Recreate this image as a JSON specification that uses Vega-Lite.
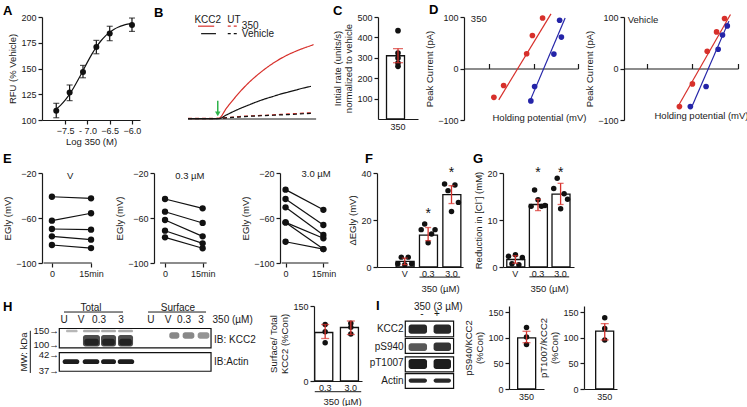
{
  "$schema": "https://vega.github.io/schema/vega-lite/v6.json",
  "padding": {"left": 2, "top": 3, "right": 0, "bottom": 0},
  "background": "white",
  "spacing": 6,
  "bounds": "full",
  "resolve": {"scale": {"color": "independent", "strokeDash": "independent", "opacity": "independent"}},
  "datasets": {
    "a_pts": [
      {"logc": -7.7, "rfu": 109, "lo": 102.2, "hi": 116.2},
      {"logc": -7.4, "rfu": 126.6, "lo": 118.8, "hi": 134},
      {"logc": -7.1, "rfu": 146.5, "lo": 141, "hi": 153},
      {"logc": -6.8, "rfu": 170.8, "lo": 164.3, "hi": 177.3},
      {"logc": -6.5, "rfu": 184, "lo": 177, "hi": 191},
      {"logc": -6.0, "rfu": 192.3, "lo": 186, "hi": 199}
    ],
    "a_curve": [
      {"logc": -7.7, "rfu": 110.7}, {"logc": -7.6, "rfu": 114.5}, {"logc": -7.5, "rfu": 119.3},
      {"logc": -7.4, "rfu": 125.1}, {"logc": -7.3, "rfu": 132.1}, {"logc": -7.2, "rfu": 139.8},
      {"logc": -7.1, "rfu": 148.0}, {"logc": -7.0, "rfu": 156.2}, {"logc": -6.9, "rfu": 164.0},
      {"logc": -6.8, "rfu": 170.9}, {"logc": -6.7, "rfu": 176.7}, {"logc": -6.6, "rfu": 181.5},
      {"logc": -6.5, "rfu": 185.3}, {"logc": -6.4, "rfu": 188.2}, {"logc": -6.3, "rfu": 190.3},
      {"logc": -6.2, "rfu": 191.9}, {"logc": -6.1, "rfu": 193.1}, {"logc": -6.0, "rfu": 193.9}
    ],
    "b_lines": [
      {"series": "KCC2-350", "drug": "350", "cells": "KCC2", "t": 0, "rfu": 1},
      {"series": "KCC2-350", "drug": "350", "cells": "KCC2", "t": 3, "rfu": 1},
      {"series": "KCC2-350", "drug": "350", "cells": "KCC2", "t": 6, "rfu": 1},
      {"series": "KCC2-350", "drug": "350", "cells": "KCC2", "t": 9, "rfu": 1},
      {"series": "KCC2-350", "drug": "350", "cells": "KCC2", "t": 12, "rfu": 2},
      {"series": "KCC2-350", "drug": "350", "cells": "KCC2", "t": 15, "rfu": 32},
      {"series": "KCC2-350", "drug": "350", "cells": "KCC2", "t": 18, "rfu": 60},
      {"series": "KCC2-350", "drug": "350", "cells": "KCC2", "t": 21, "rfu": 86},
      {"series": "KCC2-350", "drug": "350", "cells": "KCC2", "t": 24, "rfu": 109},
      {"series": "KCC2-350", "drug": "350", "cells": "KCC2", "t": 27, "rfu": 129},
      {"series": "KCC2-350", "drug": "350", "cells": "KCC2", "t": 30, "rfu": 147},
      {"series": "KCC2-350", "drug": "350", "cells": "KCC2", "t": 33, "rfu": 163},
      {"series": "KCC2-350", "drug": "350", "cells": "KCC2", "t": 36, "rfu": 177},
      {"series": "KCC2-350", "drug": "350", "cells": "KCC2", "t": 39, "rfu": 189},
      {"series": "KCC2-350", "drug": "350", "cells": "KCC2", "t": 42, "rfu": 199},
      {"series": "KCC2-350", "drug": "350", "cells": "KCC2", "t": 45, "rfu": 208},
      {"series": "KCC2-350", "drug": "350", "cells": "KCC2", "t": 48, "rfu": 216},
      {"series": "KCC2-350", "drug": "350", "cells": "KCC2", "t": 49, "rfu": 219},
      {"series": "KCC2-Veh", "drug": "Vehicle", "cells": "KCC2", "t": 0, "rfu": 1},
      {"series": "KCC2-Veh", "drug": "Vehicle", "cells": "KCC2", "t": 3, "rfu": 1},
      {"series": "KCC2-Veh", "drug": "Vehicle", "cells": "KCC2", "t": 6, "rfu": 1},
      {"series": "KCC2-Veh", "drug": "Vehicle", "cells": "KCC2", "t": 9, "rfu": 1},
      {"series": "KCC2-Veh", "drug": "Vehicle", "cells": "KCC2", "t": 12, "rfu": 1},
      {"series": "KCC2-Veh", "drug": "Vehicle", "cells": "KCC2", "t": 15, "rfu": 12},
      {"series": "KCC2-Veh", "drug": "Vehicle", "cells": "KCC2", "t": 18, "rfu": 23},
      {"series": "KCC2-Veh", "drug": "Vehicle", "cells": "KCC2", "t": 21, "rfu": 33},
      {"series": "KCC2-Veh", "drug": "Vehicle", "cells": "KCC2", "t": 24, "rfu": 42},
      {"series": "KCC2-Veh", "drug": "Vehicle", "cells": "KCC2", "t": 27, "rfu": 51},
      {"series": "KCC2-Veh", "drug": "Vehicle", "cells": "KCC2", "t": 30, "rfu": 59},
      {"series": "KCC2-Veh", "drug": "Vehicle", "cells": "KCC2", "t": 33, "rfu": 66},
      {"series": "KCC2-Veh", "drug": "Vehicle", "cells": "KCC2", "t": 36, "rfu": 73},
      {"series": "KCC2-Veh", "drug": "Vehicle", "cells": "KCC2", "t": 39, "rfu": 79},
      {"series": "KCC2-Veh", "drug": "Vehicle", "cells": "KCC2", "t": 42, "rfu": 85},
      {"series": "KCC2-Veh", "drug": "Vehicle", "cells": "KCC2", "t": 45, "rfu": 91},
      {"series": "KCC2-Veh", "drug": "Vehicle", "cells": "KCC2", "t": 48, "rfu": 96},
      {"series": "UT-350", "drug": "350", "cells": "UT", "t": 0, "rfu": 2},
      {"series": "UT-350", "drug": "350", "cells": "UT", "t": 3, "rfu": 2},
      {"series": "UT-350", "drug": "350", "cells": "UT", "t": 6, "rfu": 2},
      {"series": "UT-350", "drug": "350", "cells": "UT", "t": 9, "rfu": 2},
      {"series": "UT-350", "drug": "350", "cells": "UT", "t": 12, "rfu": 2},
      {"series": "UT-350", "drug": "350", "cells": "UT", "t": 15, "rfu": 4},
      {"series": "UT-350", "drug": "350", "cells": "UT", "t": 18, "rfu": 6},
      {"series": "UT-350", "drug": "350", "cells": "UT", "t": 21, "rfu": 8},
      {"series": "UT-350", "drug": "350", "cells": "UT", "t": 24, "rfu": 9},
      {"series": "UT-350", "drug": "350", "cells": "UT", "t": 27, "rfu": 10},
      {"series": "UT-350", "drug": "350", "cells": "UT", "t": 30, "rfu": 11},
      {"series": "UT-350", "drug": "350", "cells": "UT", "t": 33, "rfu": 12},
      {"series": "UT-350", "drug": "350", "cells": "UT", "t": 36, "rfu": 13.5},
      {"series": "UT-350", "drug": "350", "cells": "UT", "t": 39, "rfu": 15},
      {"series": "UT-350", "drug": "350", "cells": "UT", "t": 42, "rfu": 16},
      {"series": "UT-350", "drug": "350", "cells": "UT", "t": 45, "rfu": 17.5},
      {"series": "UT-350", "drug": "350", "cells": "UT", "t": 48, "rfu": 18},
      {"series": "UT-Veh", "drug": "Vehicle", "cells": "UT", "t": 0, "rfu": 1},
      {"series": "UT-Veh", "drug": "Vehicle", "cells": "UT", "t": 3, "rfu": 1},
      {"series": "UT-Veh", "drug": "Vehicle", "cells": "UT", "t": 6, "rfu": 1},
      {"series": "UT-Veh", "drug": "Vehicle", "cells": "UT", "t": 9, "rfu": 1},
      {"series": "UT-Veh", "drug": "Vehicle", "cells": "UT", "t": 12, "rfu": 1.5},
      {"series": "UT-Veh", "drug": "Vehicle", "cells": "UT", "t": 15, "rfu": 3.5},
      {"series": "UT-Veh", "drug": "Vehicle", "cells": "UT", "t": 18, "rfu": 5},
      {"series": "UT-Veh", "drug": "Vehicle", "cells": "UT", "t": 21, "rfu": 6.5},
      {"series": "UT-Veh", "drug": "Vehicle", "cells": "UT", "t": 24, "rfu": 8},
      {"series": "UT-Veh", "drug": "Vehicle", "cells": "UT", "t": 27, "rfu": 9},
      {"series": "UT-Veh", "drug": "Vehicle", "cells": "UT", "t": 30, "rfu": 10},
      {"series": "UT-Veh", "drug": "Vehicle", "cells": "UT", "t": 33, "rfu": 11},
      {"series": "UT-Veh", "drug": "Vehicle", "cells": "UT", "t": 36, "rfu": 12},
      {"series": "UT-Veh", "drug": "Vehicle", "cells": "UT", "t": 39, "rfu": 13},
      {"series": "UT-Veh", "drug": "Vehicle", "cells": "UT", "t": 42, "rfu": 14},
      {"series": "UT-Veh", "drug": "Vehicle", "cells": "UT", "t": 45, "rfu": 15.5},
      {"series": "UT-Veh", "drug": "Vehicle", "cells": "UT", "t": 48, "rfu": 16.5}
    ],
    "c_bar": [{"grp": "350", "mean": 310, "lo": 276, "hi": 345}],
    "c_pts": [
      {"grp": "350", "val": 433}, {"grp": "350", "val": 323}, {"grp": "350", "val": 299},
      {"grp": "350", "val": 274}, {"grp": "350", "val": 258}
    ],
    "d1_pts": [
      {"cond": "before", "v": -88, "i": -56}, {"cond": "before", "v": -83.6, "i": -33},
      {"cond": "before", "v": -73.2, "i": 28.7}, {"cond": "before", "v": -70.6, "i": 64},
      {"cond": "before", "v": -66, "i": 98},
      {"cond": "after", "v": -71.3, "i": -63}, {"cond": "after", "v": -69.6, "i": -35},
      {"cond": "after", "v": -60.9, "i": 28}, {"cond": "after", "v": -57.5, "i": 61},
      {"cond": "after", "v": -58.3, "i": 93.6}
    ],
    "d1_fit": [
      {"cond": "before", "v": -85.8, "i": -61}, {"cond": "before", "v": -62.2, "i": 106},
      {"cond": "after", "v": -71.3, "i": -59}, {"cond": "after", "v": -55.8, "i": 98}
    ],
    "d2_pts": [
      {"cond": "before", "v": -75.7, "i": -74}, {"cond": "before", "v": -70, "i": -30},
      {"cond": "before", "v": -63.5, "i": 33.5}, {"cond": "before", "v": -59.4, "i": 71},
      {"cond": "before", "v": -55.9, "i": 97},
      {"cond": "after", "v": -70.9, "i": -74}, {"cond": "after", "v": -64, "i": -35},
      {"cond": "after", "v": -58.7, "i": 37.4}, {"cond": "after", "v": -56.8, "i": 65},
      {"cond": "after", "v": -54.7, "i": 82.7}
    ],
    "d2_fit": [
      {"cond": "before", "v": -75.7, "i": -69}, {"cond": "before", "v": -53.3, "i": 105},
      {"cond": "after", "v": -70.2, "i": -74}, {"cond": "after", "v": -54, "i": 92}
    ],
    "e1": [
      {"id": 1, "t": 0, "v": -41.1}, {"id": 1, "t": 15, "v": -42.5},
      {"id": 2, "t": 0, "v": -62.4}, {"id": 2, "t": 15, "v": -55.8},
      {"id": 3, "t": 0, "v": -69.8}, {"id": 3, "t": 15, "v": -70.4},
      {"id": 4, "t": 0, "v": -76.3}, {"id": 4, "t": 15, "v": -79.3},
      {"id": 5, "t": 0, "v": -84.0}, {"id": 5, "t": 15, "v": -86.7}
    ],
    "e2": [
      {"id": 1, "t": 0, "v": -43.1}, {"id": 1, "t": 15, "v": -51.4},
      {"id": 2, "t": 0, "v": -54.4}, {"id": 2, "t": 15, "v": -64.4},
      {"id": 3, "t": 0, "v": -61.8}, {"id": 3, "t": 15, "v": -76.3},
      {"id": 4, "t": 0, "v": -71.3}, {"id": 4, "t": 15, "v": -82.5},
      {"id": 5, "t": 0, "v": -77.2}, {"id": 5, "t": 15, "v": -86.9}
    ],
    "e3": [
      {"id": 1, "t": 0, "v": -34.8}, {"id": 1, "t": 15, "v": -52.7},
      {"id": 2, "t": 0, "v": -43.1}, {"id": 2, "t": 15, "v": -66.2},
      {"id": 3, "t": 0, "v": -50.5}, {"id": 3, "t": 15, "v": -75.1},
      {"id": 4, "t": 0, "v": -63.9}, {"id": 4, "t": 15, "v": -78.0},
      {"id": 5, "t": 0, "v": -63.9}, {"id": 5, "t": 15, "v": -87.6},
      {"id": 6, "t": 0, "v": -81.1}, {"id": 6, "t": 15, "v": -87.6}
    ],
    "f_bar": [
      {"cond": "V", "mean": 2.4, "lo": 1.0, "hi": 3.8},
      {"cond": "0.3", "mean": 13.6, "lo": 11.2, "hi": 16.8},
      {"cond": "3.0", "mean": 30.8, "lo": 27.0, "hi": 34.6}
    ],
    "f_pts": [
      {"cond": "V", "rep": 1, "val": 1.4}, {"cond": "V", "rep": 2, "val": 4.2}, {"cond": "V", "rep": 3, "val": 1.0},
      {"cond": "V", "rep": 4, "val": 4.2}, {"cond": "V", "rep": 5, "val": 1.4},
      {"cond": "0.3", "rep": 1, "val": 15.9}, {"cond": "0.3", "rep": 2, "val": 18.3}, {"cond": "0.3", "rep": 3, "val": 10.3},
      {"cond": "0.3", "rep": 4, "val": 14.0}, {"cond": "0.3", "rep": 5, "val": 15.9},
      {"cond": "3.0", "rep": 1, "val": 35.3}, {"cond": "3.0", "rep": 2, "val": 32.5}, {"cond": "3.0", "rep": 3, "val": 23.6},
      {"cond": "3.0", "rep": 4, "val": 34.9}, {"cond": "3.0", "rep": 5, "val": 27.5}
    ],
    "g_bar": [
      {"cond": "V", "mean": 1.6, "lo": 0.8, "hi": 2.4},
      {"cond": "0.3", "mean": 13.3, "lo": 12.0, "hi": 14.4},
      {"cond": "3.0", "mean": 15.5, "lo": 13.3, "hi": 17.8}
    ],
    "g_pts": [
      {"cond": "V", "rep": 1, "val": 2.3}, {"cond": "V", "rep": 2, "val": 0.7}, {"cond": "V", "rep": 3, "val": 2.6},
      {"cond": "V", "rep": 4, "val": 0.5}, {"cond": "V", "rep": 5, "val": 2.0},
      {"cond": "0.3", "rep": 1, "val": 12.9}, {"cond": "0.3", "rep": 2, "val": 16.4}, {"cond": "0.3", "rep": 3, "val": 14.3},
      {"cond": "0.3", "rep": 4, "val": 12.9}, {"cond": "0.3", "rep": 5, "val": 13.1},
      {"cond": "3.0", "rep": 1, "val": 16.7}, {"cond": "3.0", "rep": 2, "val": 18.9}, {"cond": "3.0", "rep": 3, "val": 12.4},
      {"cond": "3.0", "rep": 4, "val": 15.6}, {"cond": "3.0", "rep": 5, "val": 14.4}
    ],
    "h_boxes": [{"blot": "KCC2", "y1": 0, "y2": 45.3}, {"blot": "Actin", "y1": 56.3, "y2": 100}],
    "h_bands": [
      {"x1": 4.4, "x2": 12.1, "y1": 3, "y2": 9, "dens": 0.3},
      {"x1": 15.6, "x2": 26.8, "y1": 3, "y2": 9, "dens": 0.35},
      {"x1": 27.5, "x2": 37.4, "y1": 3, "y2": 9, "dens": 0.35},
      {"x1": 38.7, "x2": 48.6, "y1": 3, "y2": 9, "dens": 0.35},
      {"x1": 15.6, "x2": 26.8, "y1": 15, "y2": 42, "dens": 0.75},
      {"x1": 27.5, "x2": 37.4, "y1": 15, "y2": 42, "dens": 0.75},
      {"x1": 38.7, "x2": 48.6, "y1": 15, "y2": 42, "dens": 0.75},
      {"x1": 16.5, "x2": 26, "y1": 24, "y2": 40, "dens": 0.7},
      {"x1": 28.3, "x2": 36.6, "y1": 24, "y2": 40, "dens": 0.7},
      {"x1": 39.5, "x2": 47.8, "y1": 24, "y2": 40, "dens": 0.7},
      {"x1": 72.5, "x2": 79.1, "y1": 9, "y2": 24, "dens": 0.5},
      {"x1": 81.3, "x2": 89, "y1": 9, "y2": 24, "dens": 0.5},
      {"x1": 91.2, "x2": 98.9, "y1": 9, "y2": 24, "dens": 0.45},
      {"x1": 2.2, "x2": 13.2, "y1": 72, "y2": 83, "dens": 0.95},
      {"x1": 15.4, "x2": 26.4, "y1": 72, "y2": 83, "dens": 0.95},
      {"x1": 27.5, "x2": 37.4, "y1": 72, "y2": 83, "dens": 0.95},
      {"x1": 38.5, "x2": 49.4, "y1": 72, "y2": 83, "dens": 0.95}
    ],
    "h_lanes": [
      {"lane": "U", "x": 3.1}, {"lane": "V", "x": 14.3}, {"lane": "0.3", "x": 26.2}, {"lane": "3", "x": 40.7},
      {"lane": "U", "x": 60.4}, {"lane": "V", "x": 71.7}, {"lane": "0.3", "x": 82.2}, {"lane": "3", "x": 93.4}
    ],
    "h_mw": [
      {"lab": "150→", "y": 6.1}, {"lab": "100→", "y": 37.6}, {"lab": "42→", "y": 62.4}, {"lab": "37→", "y": 100}
    ],
    "hb_bar": [
      {"cond": "0.3", "mean": 97, "lo": 85, "hi": 113},
      {"cond": "3.0", "mean": 107, "lo": 93, "hi": 120}
    ],
    "hb_pts": [
      {"cond": "0.3", "val": 113}, {"cond": "0.3", "val": 98.6}, {"cond": "0.3", "val": 76.6},
      {"cond": "3.0", "val": 115.3}, {"cond": "3.0", "val": 94}, {"cond": "3.0", "val": 107.3}
    ],
    "i_boxes": [
      {"blot": "KCC2", "y1": 0, "y2": 23.3, "ylab": 12.5},
      {"blot": "pS940", "y1": 25.8, "y2": 48.1, "ylab": 38.1},
      {"blot": "pT1007", "y1": 53.3, "y2": 75.5, "ylab": 62.9},
      {"blot": "Actin", "y1": 78, "y2": 100, "ylab": 89}
    ],
    "i_bands": [
      {"x1": 6.9, "x2": 45, "y1": 5, "y2": 18.8, "dens": 0.9},
      {"x1": 58.6, "x2": 94.6, "y1": 5, "y2": 18.8, "dens": 0.9},
      {"x1": 6.9, "x2": 45, "y1": 33, "y2": 44.5, "dens": 0.7},
      {"x1": 58.6, "x2": 94.6, "y1": 32, "y2": 44.5, "dens": 0.85},
      {"x1": 6.9, "x2": 45, "y1": 56.4, "y2": 71.2, "dens": 0.95},
      {"x1": 58.6, "x2": 94.6, "y1": 56.4, "y2": 71.2, "dens": 0.95},
      {"x1": 6.9, "x2": 45, "y1": 85.2, "y2": 91.6, "dens": 0.9},
      {"x1": 58.6, "x2": 94.6, "y1": 85.2, "y2": 91.6, "dens": 0.9}
    ],
    "i1_bar": [{"grp": "350", "mean": 100, "lo": 90.6, "hi": 113}],
    "i1_pts": [{"grp": "350", "val": 120.6}, {"grp": "350", "val": 102}, {"grp": "350", "val": 87}],
    "i2_bar": [{"grp": "350", "mean": 113.5, "lo": 96, "hi": 128}],
    "i2_pts": [{"grp": "350", "val": 139.5}, {"grp": "350", "val": 118.6}, {"grp": "350", "val": 95.9}]
  },
  "vconcat": [
    {
      "spacing": 46,
      "bounds": "flush",
      "resolve": {"scale": {"color": "independent", "strokeDash": "independent", "opacity": "independent"}},
      "hconcat": [
        {
          "width": 98, "height": 103,
          "title": {"text": "A", "dx": -39, "dy": 7},
          "encoding": {
            "x": {"field": "logc", "type": "quantitative", "scale": {"domain": [-8.02, -5.82], "nice": false, "zero": false},
                  "axis": {"values": [-7.5, -7, -6.5, -6], "labelExpr": "datum.value == -7 ? '- 7.0' : format(datum.value, '.1f')", "title": "Log 350 (M)", "titlePadding": 1}},
            "y": {"field": "rfu", "type": "quantitative", "scale": {"domain": [100, 200], "nice": false, "zero": false},
                  "axis": {"values": [100, 125, 150, 175, 200], "title": "RFU (% Vehicle)"}}
          },
          "layer": [
            {"data": {"name": "a_curve"}, "mark": {"type": "line", "interpolate": "monotone", "color": "#111111", "strokeWidth": 1.2}},
            {"data": {"name": "a_pts"}, "mark": {"type": "errorbar", "ticks": {"size": 6}, "color": "#111111", "thickness": 1.2},
             "encoding": {"y": {"field": "lo", "type": "quantitative"}, "y2": {"field": "hi"}}},
            {"data": {"name": "a_pts"}, "mark": {"type": "point", "filled": true, "size": 36, "color": "#111111", "opacity": 1}}
          ]
        },
        {
          "width": 146, "height": 102,
          "title": {"text": "B", "dx": -32, "dy": 7},
          "layer": [
            {"data": {"name": "b_lines"}, "mark": {"type": "line", "strokeWidth": 1.2, "interpolate": "monotone"},
             "encoding": {
               "x": {"field": "t", "type": "quantitative", "scale": {"domain": [-0.8, 56.2], "nice": false, "zero": false},
                     "axis": {"values": [0, 10, 20, 30, 40, 50], "domain": false, "title": "Time (S)", "titlePadding": 1}},
               "y": {"field": "rfu", "type": "quantitative", "scale": {"domain": [0, 300], "nice": false},
                     "axis": {"values": [100, 200, 300], "title": "Normalized RFU"}},
               "color": {"field": "drug", "type": "nominal", "scale": {"domain": ["350", "Vehicle"], "range": ["#d7302b", "#111111"]}, "legend": null},
               "strokeDash": {"field": "cells", "type": "nominal", "scale": {"domain": ["KCC2", "UT"], "range": [[1, 0], [4, 3]]}, "legend": null},
               "detail": {"field": "series", "type": "nominal"}
             }},
            {"data": {"values": [{}]}, "mark": {"type": "rule", "color": "#1a1a1a", "strokeWidth": 1.2},
             "encoding": {"x": {"datum": 0, "axis": null}, "x2": {"datum": 50}, "y": {"datum": 0, "axis": null}}},
            {"data": {"values": [{}]}, "mark": {"type": "text", "text": "KCC2", "fontSize": 10},
             "encoding": {"x": {"datum": 7.7, "axis": null}, "y": {"datum": 291, "axis": null}}},
            {"data": {"values": [{}]}, "mark": {"type": "text", "text": "UT", "fontSize": 10},
             "encoding": {"x": {"datum": 17.9, "axis": null}, "y": {"datum": 291, "axis": null}}},
            {"data": {"values": [{}]}, "mark": {"type": "rule", "color": "#d7302b", "strokeWidth": 1.2},
             "encoding": {"x": {"datum": 3.9, "axis": null}, "x2": {"datum": 10.2}, "y": {"datum": 273, "axis": null}}},
            {"data": {"values": [{}]}, "mark": {"type": "rule", "color": "#d7302b", "strokeWidth": 1.2, "strokeDash": [3, 3]},
             "encoding": {"x": {"datum": 15.5, "axis": null}, "x2": {"datum": 19.8}, "y": {"datum": 273, "axis": null}}},
            {"data": {"values": [{}]}, "mark": {"type": "rule", "color": "#111111", "strokeWidth": 1.2},
             "encoding": {"x": {"datum": 5.1, "axis": null}, "x2": {"datum": 10.9}, "y": {"datum": 251, "axis": null}}},
            {"data": {"values": [{}]}, "mark": {"type": "rule", "color": "#111111", "strokeWidth": 1.2, "strokeDash": [3, 3]},
             "encoding": {"x": {"datum": 15.5, "axis": null}, "x2": {"datum": 19.8}, "y": {"datum": 251, "axis": null}}},
            {"data": {"values": [{}]}, "mark": {"type": "text", "text": "350", "align": "left", "fontSize": 10},
             "encoding": {"x": {"datum": 21, "axis": null}, "y": {"datum": 274, "axis": null}}},
            {"data": {"values": [{}]}, "mark": {"type": "text", "text": "Vehicle", "align": "left", "fontSize": 10},
             "encoding": {"x": {"datum": 21, "axis": null}, "y": {"datum": 251, "axis": null}}},
            {"data": {"values": [{}]}, "mark": {"type": "rule", "color": "#2fb34a", "strokeWidth": 1.5},
             "encoding": {"x": {"datum": 11.6, "axis": null}, "y": {"datum": 54, "axis": null}, "y2": {"datum": 18}}},
            {"data": {"values": [{}]}, "mark": {"type": "point", "shape": "triangle-down", "filled": true, "size": 30, "color": "#2fb34a", "opacity": 1},
             "encoding": {"x": {"datum": 11.6, "axis": null}, "y": {"datum": 15, "axis": null}}}
          ]
        },
        {
          "width": 40, "height": 102,
          "title": {"text": "C", "dx": -45, "dy": 7},
          "encoding": {
            "x": {"field": "grp", "type": "nominal", "scale": {"paddingInner": 0, "paddingOuter": 0.37},
                  "axis": {"title": null, "ticks": false, "labelPadding": 3}},
            "y": {"field": "mean", "type": "quantitative", "scale": {"domain": [0, 500], "nice": false},
                  "axis": {"values": [100, 200, 300, 400, 500], "title": ["Intial rate (units/s)", "normalized to vehicle"]}}
          },
          "layer": [
            {"data": {"name": "c_bar"}, "mark": {"type": "bar", "fill": "white", "stroke": "#111111", "strokeWidth": 1.3}},
            {"data": {"name": "c_pts"}, "mark": {"type": "point", "filled": true, "size": 32, "color": "#111111", "opacity": 1},
             "encoding": {"y": {"field": "val", "type": "quantitative"}}},
            {"data": {"name": "c_bar"}, "mark": {"type": "errorbar", "color": "#d7302b", "ticks": {"size": 10}, "thickness": 1.3},
             "encoding": {"y": {"field": "lo", "type": "quantitative"}, "y2": {"field": "hi"}}}
          ]
        },
        {
          "width": 114, "height": 103,
          "title": {"text": "D", "dx": -35, "dy": 7},
          "layer": [
            {
              "encoding": {
                "x": {"field": "v", "type": "quantitative", "scale": {"domain": [-101.5, -50], "nice": false, "zero": false},
                      "axis": {"values": [-90, -80, -70, -60, -50], "labelExpr": "(datum.value == -80 || datum.value == -60) ? datum.label : ''",
                               "offset": -51.5, "tickSize": -5, "labelPadding": 2, "title": "Holding potential (mV)", "titleX": 75, "titleY": 44}},
                "y": {"field": "i", "type": "quantitative", "scale": {"domain": [-100, 100], "nice": false},
                      "axis": {"values": [-100, -50, 0, 50, 100], "title": "Peak Current (pA)"}},
                "color": {"field": "cond", "type": "nominal", "scale": {"domain": ["before", "after"], "range": ["#d7302b", "#2424a8"]}, "legend": null}
              },
              "layer": [
                {"data": {"name": "d1_fit"}, "mark": {"type": "line", "strokeWidth": 1.2}},
                {"data": {"name": "d1_pts"}, "mark": {"type": "point", "filled": true, "size": 32, "opacity": 1}}
              ]
            },
            {"data": {"values": [{}]}, "mark": {"type": "text", "text": "350", "align": "left"},
             "encoding": {"x": {"datum": -98.4}, "y": {"datum": 96}}}
          ]
        },
        {
          "width": 114, "height": 103,
          "layer": [
            {
              "encoding": {
                "x": {"field": "v", "type": "quantitative", "scale": {"domain": [-100, -50], "nice": false, "zero": false},
                      "axis": {"values": [-90, -80, -70, -60, -50], "labelExpr": "(datum.value == -80 || datum.value == -60) ? datum.label : ''",
                               "offset": -51.5, "tickSize": -5, "labelPadding": 2, "title": "Holding potential (mV)", "titleX": 77, "titleY": 42}},
                "y": {"field": "i", "type": "quantitative", "scale": {"domain": [-100, 100], "nice": false},
                      "axis": {"values": [-100, -50, 0, 50, 100], "title": "Peak Current (pA)"}},
                "color": {"field": "cond", "type": "nominal", "scale": {"domain": ["before", "after"], "range": ["#d7302b", "#2424a8"]}, "legend": null}
              },
              "layer": [
                {"data": {"name": "d2_fit"}, "mark": {"type": "line", "strokeWidth": 1.2}},
                {"data": {"name": "d2_pts"}, "mark": {"type": "point", "filled": true, "size": 32, "opacity": 1}}
              ]
            },
            {"data": {"values": [{}]}, "mark": {"type": "text", "text": "Vehicle", "align": "left"},
             "encoding": {"x": {"datum": -98.4}, "y": {"datum": 95}}}
          ]
        }
      ]
    },
    {
      "spacing": 40,
      "bounds": "flush",
      "resolve": {"scale": {"color": "independent", "opacity": "independent"}},
      "hconcat": [
        {
          "width": 72, "height": 90,
          "title": {"text": "E", "dx": -39, "dy": -1},
          "layer": [
            {
              "encoding": {
                "x": {"field": "t", "type": "quantitative", "scale": {"domain": [-3.8, 23.8], "nice": false, "zero": false},
                      "axis": {"values": [0, 15], "labelExpr": "datum.value == 15 ? '15min' : datum.label", "domain": false, "title": null}},
                "y": {"field": "v", "type": "quantitative", "scale": {"domain": [-100, -20], "nice": false, "zero": false},
                      "axis": {"values": [-100, -60, -20], "title": "EGly (mV)"}}
              },
              "layer": [
                {"data": {"name": "e1"}, "mark": {"type": "line", "color": "#111111", "strokeWidth": 1.2}, "encoding": {"detail": {"field": "id", "type": "nominal"}}},
                {"data": {"name": "e1"}, "mark": {"type": "point", "filled": true, "size": 40, "color": "#111111", "opacity": 1}}
              ]
            },
            {"data": {"values": [{}]}, "mark": {"type": "rule", "color": "#1a1a1a", "strokeWidth": 1.2},
             "encoding": {"x": {"datum": -3.2}, "x2": {"datum": 15.3}, "y": {"datum": -100}}},
            {"data": {"values": [{}]}, "mark": {"type": "text", "text": "V"},
             "encoding": {"x": {"datum": 7}, "y": {"datum": -22.7}}}
          ]
        },
        {
          "width": 86, "height": 90,
          "layer": [
            {
              "encoding": {
                "x": {"field": "t", "type": "quantitative", "scale": {"domain": [-4.4, 29.9], "nice": false, "zero": false},
                      "axis": {"values": [0, 15], "labelExpr": "datum.value == 15 ? '15min' : datum.label", "domain": false, "title": null}},
                "y": {"field": "v", "type": "quantitative", "scale": {"domain": [-100, -20], "nice": false, "zero": false},
                      "axis": {"values": [-100, -60, -20], "title": "EGly (mV)"}}
              },
              "layer": [
                {"data": {"name": "e2"}, "mark": {"type": "line", "color": "#111111", "strokeWidth": 1.2}, "encoding": {"detail": {"field": "id", "type": "nominal"}}},
                {"data": {"name": "e2"}, "mark": {"type": "point", "filled": true, "size": 40, "color": "#111111", "opacity": 1}}
              ]
            },
            {"data": {"values": [{}]}, "mark": {"type": "rule", "color": "#1a1a1a", "strokeWidth": 1.2},
             "encoding": {"x": {"datum": -2}, "x2": {"datum": 16.6}, "y": {"datum": -100}}},
            {"data": {"values": [{}]}, "mark": {"type": "text", "text": "0.3 µM"},
             "encoding": {"x": {"datum": 9.9}, "y": {"datum": -22.7}}}
          ]
        },
        {
          "width": 57, "height": 90,
          "layer": [
            {
              "encoding": {
                "x": {"field": "t", "type": "quantitative", "scale": {"domain": [-2.2, 20.4], "nice": false, "zero": false},
                      "axis": {"values": [0, 15], "labelExpr": "datum.value == 15 ? '15min' : datum.label", "domain": false, "title": null}},
                "y": {"field": "v", "type": "quantitative", "scale": {"domain": [-100, -20], "nice": false, "zero": false},
                      "axis": {"values": [-100, -60, -20], "title": "EGly (mV)"}}
              },
              "layer": [
                {"data": {"name": "e3"}, "mark": {"type": "line", "color": "#111111", "strokeWidth": 1.2}, "encoding": {"detail": {"field": "id", "type": "nominal"}}},
                {"data": {"name": "e3"}, "mark": {"type": "point", "filled": true, "size": 40, "color": "#111111", "opacity": 1}}
              ]
            },
            {"data": {"values": [{}]}, "mark": {"type": "rule", "color": "#1a1a1a", "strokeWidth": 1.2},
             "encoding": {"x": {"datum": -1.5}, "x2": {"datum": 17}, "y": {"datum": -100}}},
            {"data": {"values": [{}]}, "mark": {"type": "text", "text": "3.0  µM"},
             "encoding": {"x": {"datum": 12.1}, "y": {"datum": -21}}}
          ]
        },
        {
          "width": 86, "height": 94,
          "title": {"text": "F", "dx": -12, "dy": 2},
          "layer": [
            {
              "encoding": {
                "x": {"field": "cond", "type": "nominal", "sort": ["V", "0.3", "3.0"],
                      "scale": {"domain": ["V", "0.3", "3.0"], "paddingInner": 0.26, "paddingOuter": 0.47, "align": 0.87},
                      "axis": {"title": "350 (µM)", "ticks": false, "labelPadding": 2, "titleX": 63, "titlePadding": 5}},
                "y": {"field": "mean", "type": "quantitative", "scale": {"domain": [0, 40], "nice": false},
                      "axis": {"values": [0, 10, 20, 30, 40], "labelExpr": "datum.value % 20 == 0 ? datum.label : ''", "title": "ΔEGly (mV)"}}
              },
              "layer": [
                {"data": {"name": "f_bar"}, "mark": {"type": "bar", "fill": "white", "stroke": "#111111", "strokeWidth": 1.3}},
                {"data": {"name": "f_pts"}, "mark": {"type": "point", "filled": true, "size": 30, "color": "#111111", "opacity": 1},
                 "encoding": {"y": {"field": "val", "type": "quantitative"}, "xOffset": {"field": "rep", "type": "nominal"}}},
                {"data": {"name": "f_bar"}, "mark": {"type": "errorbar", "color": "#d7302b", "ticks": {"size": 6}, "thickness": 1.3},
                 "encoding": {"y": {"field": "lo", "type": "quantitative"}, "y2": {"field": "hi"}}}
              ]
            },
            {"data": {"values": [{}]}, "mark": {"type": "text", "text": "*", "fontSize": 14, "color": "#111111"},
             "encoding": {"x": {"datum": "0.3"}, "y": {"datum": 22.7}}},
            {"data": {"values": [{}]}, "mark": {"type": "text", "text": "*", "fontSize": 14, "color": "#111111"},
             "encoding": {"x": {"datum": "3.0"}, "y": {"datum": 40.1}}},
            {"data": {"values": [{}]}, "mark": {"type": "rule", "color": "#1a1a1a", "strokeWidth": 1},
             "encoding": {"x": {"datum": "0.3", "bandPosition": 0}, "x2": {"datum": "3.0", "bandPosition": 1}, "y": {"datum": -4.3}}}
          ]
        },
        {
          "width": 71, "height": 94,
          "title": {"text": "G", "dx": -30, "dy": 2},
          "layer": [
            {
              "encoding": {
                "x": {"field": "cond", "type": "nominal", "sort": ["V", "0.3", "3.0"],
                      "scale": {"domain": ["V", "0.3", "3.0"], "paddingInner": 0.24, "paddingOuter": 0.19, "align": 0.44},
                      "axis": {"title": "350 (µM)", "ticks": false, "labelPadding": 2, "titleX": 46, "titlePadding": 5}},
                "y": {"field": "mean", "type": "quantitative", "scale": {"domain": [0, 20], "nice": false},
                      "axis": {"values": [0, 5, 10, 15, 20], "title": "Reduction in [Cl⁻] (mM)"}}
              },
              "layer": [
                {"data": {"name": "g_bar"}, "mark": {"type": "bar", "fill": "white", "stroke": "#111111", "strokeWidth": 1.3}},
                {"data": {"name": "g_pts"}, "mark": {"type": "point", "filled": true, "size": 30, "color": "#111111", "opacity": 1},
                 "encoding": {"y": {"field": "val", "type": "quantitative"}, "xOffset": {"field": "rep", "type": "nominal"}}},
                {"data": {"name": "g_bar"}, "mark": {"type": "errorbar", "color": "#d7302b", "ticks": {"size": 6}, "thickness": 1.3},
                 "encoding": {"y": {"field": "lo", "type": "quantitative"}, "y2": {"field": "hi"}}}
              ]
            },
            {"data": {"values": [{}]}, "mark": {"type": "text", "text": "*", "fontSize": 14, "color": "#111111"},
             "encoding": {"x": {"datum": "0.3"}, "y": {"datum": 19.9}}},
            {"data": {"values": [{}]}, "mark": {"type": "text", "text": "*", "fontSize": 14, "color": "#111111"},
             "encoding": {"x": {"datum": "3.0"}, "y": {"datum": 19.9}}},
            {"data": {"values": [{}]}, "mark": {"type": "rule", "color": "#1a1a1a", "strokeWidth": 1},
             "encoding": {"x": {"datum": "0.3", "bandPosition": 0}, "x2": {"datum": "3.0", "bandPosition": 1}, "y": {"datum": -2.1}}}
          ]
        }
      ]
    },
    {
      "spacing": 40,
      "bounds": "flush",
      "resolve": {"scale": {"color": "independent", "opacity": "independent"}},
      "hconcat": [
        {
          "width": 232, "height": 83,
          "title": {"text": "H", "dx": -39, "dy": 13},
          "layer": [
            {"data": {"name": "h_boxes"}, "mark": {"type": "rect", "fill": "white", "stroke": "#111111", "strokeWidth": 1.2},
             "encoding": {
               "x": {"datum": 0, "type": "quantitative", "scale": {"domain": [-11.4, 141.5], "nice": false, "zero": false}, "axis": null},
               "x2": {"datum": 100},
               "y": {"field": "y1", "type": "quantitative", "scale": {"domain": [-52.6, 141.5], "reverse": true, "nice": false, "zero": false}, "axis": null},
               "y2": {"field": "y2"}
             }},
            {"data": {"name": "h_bands"}, "mark": {"type": "rect", "cornerRadius": 2.5, "color": "#111111"},
             "encoding": {
               "x": {"field": "x1", "type": "quantitative", "axis": null}, "x2": {"field": "x2"},
               "y": {"field": "y1", "type": "quantitative", "axis": null}, "y2": {"field": "y2"},
               "opacity": {"field": "dens", "type": "quantitative", "scale": {"domain": [0, 1], "range": [0, 1]}, "legend": null}
             }},
            {"data": {"name": "h_lanes"}, "mark": {"type": "text", "fontSize": 10},
             "encoding": {"x": {"field": "x", "type": "quantitative", "axis": null}, "y": {"datum": -21, "axis": null}, "text": {"field": "lane"}}},
            {"data": {"name": "h_mw"}, "mark": {"type": "text", "align": "right", "fontSize": 9.5},
             "encoding": {"x": {"datum": -0.3, "axis": null}, "y": {"field": "y", "type": "quantitative", "axis": null}, "text": {"field": "lab"}}},
            {"data": {"values": [{}]}, "mark": {"type": "text", "text": "Total", "fontSize": 10},
             "encoding": {"x": {"datum": 20.9, "axis": null}, "y": {"datum": -47, "axis": null}}},
            {"data": {"values": [{}]}, "mark": {"type": "text", "text": "Surface", "fontSize": 10},
             "encoding": {"x": {"datum": 78.2, "axis": null}, "y": {"datum": -47, "axis": null}}},
            {"data": {"values": [{}]}, "mark": {"type": "rule", "color": "#1a1a1a", "strokeWidth": 1},
             "encoding": {"x": {"datum": 3.1, "axis": null}, "x2": {"datum": 42}, "y": {"datum": -38.5, "axis": null}}},
            {"data": {"values": [{}]}, "mark": {"type": "rule", "color": "#1a1a1a", "strokeWidth": 1},
             "encoding": {"x": {"datum": 58.5, "axis": null}, "x2": {"datum": 96.7}, "y": {"datum": -38.5, "axis": null}}},
            {"data": {"values": [{}]}, "mark": {"type": "text", "text": "350 (µM)", "align": "left", "fontSize": 10},
             "encoding": {"x": {"datum": 101, "axis": null}, "y": {"datum": -21, "axis": null}}},
            {"data": {"values": [{}]}, "mark": {"type": "text", "text": "IB: KCC2", "align": "left", "fontSize": 10},
             "encoding": {"x": {"datum": 102, "axis": null}, "y": {"datum": 26.5, "axis": null}}},
            {"data": {"values": [{}]}, "mark": {"type": "text", "text": "IB:Actin", "align": "left", "fontSize": 10},
             "encoding": {"x": {"datum": 102, "axis": null}, "y": {"datum": 78.2, "axis": null}}},
            {"data": {"values": [{}]}, "mark": {"type": "text", "text": "MW: kDa", "angle": 270, "fontSize": 9.5},
             "encoding": {"x": {"datum": -23.3, "axis": null}, "y": {"datum": 55, "axis": null}}},
            {"data": {"values": [{}]}, "mark": {"type": "rule", "color": "#1a1a1a", "strokeWidth": 1},
             "encoding": {"x": {"datum": -19.1, "axis": null}, "y": {"datum": 5.4, "axis": null}, "y2": {"datum": 104}}}
          ]
        },
        {
          "width": 48, "height": 75,
          "layer": [
            {
              "encoding": {
                "x": {"field": "cond", "type": "nominal", "sort": ["0.3", "3.0"],
                      "scale": {"domain": ["0.3", "3.0"], "paddingInner": 0.19, "paddingOuter": 0.03},
                      "axis": {"title": "350 (µM)", "ticks": false, "labelPadding": 2, "titleX": 28, "titlePadding": 4}},
                "y": {"field": "mean", "type": "quantitative", "scale": {"domain": [0, 150], "nice": false},
                      "axis": {"values": [0, 50, 100, 150], "title": ["Surface/ Total", "KCC2 (%Con)"]}}
              },
              "layer": [
                {"data": {"name": "hb_bar"}, "mark": {"type": "bar", "fill": "white", "stroke": "#111111", "strokeWidth": 1.3}},
                {"data": {"name": "hb_pts"}, "mark": {"type": "point", "filled": true, "size": 30, "color": "#111111", "opacity": 1},
                 "encoding": {"y": {"field": "val", "type": "quantitative"}}},
                {"data": {"name": "hb_bar"}, "mark": {"type": "errorbar", "color": "#d7302b", "ticks": {"size": 8}, "thickness": 1.3},
                 "encoding": {"y": {"field": "lo", "type": "quantitative"}, "y2": {"field": "hi"}}}
              ]
            },
            {"data": {"values": [{}]}, "mark": {"type": "rule", "color": "#1a1a1a", "strokeWidth": 1},
             "encoding": {"x": {"datum": "0.3", "bandPosition": 0}, "x2": {"datum": "3.0", "bandPosition": 1}, "y": {"datum": -21.4}}}
          ]
        },
        {
          "width": 67, "height": 91,
          "title": {"text": "I", "dx": -26, "dy": 13},
          "layer": [
            {"data": {"name": "i_boxes"}, "mark": {"type": "rect", "fill": "white", "stroke": "#111111", "strokeWidth": 1.2},
             "encoding": {
               "x": {"datum": 0, "type": "quantitative", "scale": {"domain": [-6.8, 131.9], "nice": false, "zero": false}, "axis": null},
               "x2": {"datum": 100},
               "y": {"field": "y1", "type": "quantitative", "scale": {"domain": [-22.3, 112.7], "reverse": true, "nice": false, "zero": false}, "axis": null},
               "y2": {"field": "y2"}
             }},
            {"data": {"name": "i_bands"}, "mark": {"type": "rect", "cornerRadius": 2.5, "color": "#111111"},
             "encoding": {
               "x": {"field": "x1", "type": "quantitative", "axis": null}, "x2": {"field": "x2"},
               "y": {"field": "y1", "type": "quantitative", "axis": null}, "y2": {"field": "y2"},
               "opacity": {"field": "dens", "type": "quantitative", "scale": {"domain": [0, 1], "range": [0, 1]}, "legend": null}
             }},
            {"data": {"name": "i_boxes"}, "mark": {"type": "text", "align": "right", "fontSize": 10},
             "encoding": {"x": {"datum": -3.5, "axis": null}, "y": {"field": "ylab", "type": "quantitative", "axis": null}, "text": {"field": "blot"}}},
            {"data": {"values": [{}]}, "mark": {"type": "text", "text": "350 (3 µM)", "fontSize": 10},
             "encoding": {"x": {"datum": 68.3, "axis": null}, "y": {"datum": -21.2, "axis": null}}},
            {"data": {"values": [{}]}, "mark": {"type": "text", "text": "-", "fontSize": 10},
             "encoding": {"x": {"datum": 34.6, "axis": null}, "y": {"datum": -9.8, "axis": null}}},
            {"data": {"values": [{}]}, "mark": {"type": "text", "text": "+", "fontSize": 10},
             "encoding": {"x": {"datum": 65.6, "axis": null}, "y": {"datum": -9.8, "axis": null}}}
          ]
        },
        {
          "width": 35, "height": 83,
          "encoding": {
            "x": {"field": "grp", "type": "nominal", "scale": {"paddingInner": 0, "paddingOuter": 0.49},
                  "axis": {"title": null, "ticks": false, "labelPadding": 3}},
            "y": {"field": "mean", "type": "quantitative", "scale": {"domain": [0, 162.5], "nice": false},
                  "axis": {"values": [0, 50, 100, 150], "title": ["pS940/KCC2", "(%Con)"]}}
          },
          "layer": [
            {"data": {"name": "i1_bar"}, "mark": {"type": "bar", "fill": "white", "stroke": "#111111", "strokeWidth": 1.3}},
            {"data": {"name": "i1_pts"}, "mark": {"type": "point", "filled": true, "size": 30, "color": "#111111", "opacity": 1},
             "encoding": {"y": {"field": "val", "type": "quantitative"}}},
            {"data": {"name": "i1_bar"}, "mark": {"type": "errorbar", "color": "#d7302b", "ticks": {"size": 8}, "thickness": 1.3},
             "encoding": {"y": {"field": "lo", "type": "quantitative"}, "y2": {"field": "hi"}}}
          ]
        },
        {
          "width": 33, "height": 83,
          "encoding": {
            "x": {"field": "grp", "type": "nominal", "scale": {"paddingInner": 0, "paddingOuter": 0.41, "align": 0.785},
                  "axis": {"title": null, "ticks": false, "labelPadding": 3}},
            "y": {"field": "mean", "type": "quantitative", "scale": {"domain": [0, 162.5], "nice": false},
                  "axis": {"values": [0, 50, 100, 150], "title": ["pT1007/KCC2", "(%Con)"]}}
          },
          "layer": [
            {"data": {"name": "i2_bar"}, "mark": {"type": "bar", "fill": "white", "stroke": "#111111", "strokeWidth": 1.3}},
            {"data": {"name": "i2_pts"}, "mark": {"type": "point", "filled": true, "size": 30, "color": "#111111", "opacity": 1},
             "encoding": {"y": {"field": "val", "type": "quantitative"}}},
            {"data": {"name": "i2_bar"}, "mark": {"type": "errorbar", "color": "#d7302b", "ticks": {"size": 8}, "thickness": 1.3},
             "encoding": {"y": {"field": "lo", "type": "quantitative"}, "y2": {"field": "hi"}}}
          ]
        }
      ]
    }
  ],
  "config": {
    "font": "Liberation Sans",
    "view": {"stroke": null},
    "axis": {
      "grid": false, "labelFontSize": 9, "titleFontSize": 9.5, "titleFontWeight": "normal",
      "labelColor": "#1a1a1a", "titleColor": "#1a1a1a", "domainColor": "#1a1a1a", "tickColor": "#1a1a1a",
      "domainWidth": 1.2, "tickWidth": 1.2, "tickSize": 4, "labelPadding": 2, "titlePadding": 3,
      "labelFlush": false, "labelOverlap": false, "labelFont": "Liberation Sans", "titleFont": "Liberation Sans"
    },
    "axisX": {"labelAngle": 0},
    "title": {"fontSize": 13, "fontWeight": "bold", "anchor": "start", "frame": "group", "offset": 2, "color": "#000000", "font": "Liberation Sans"},
    "text": {"fontSize": 9.5, "color": "#1a1a1a", "font": "Liberation Sans"}
  }
}
